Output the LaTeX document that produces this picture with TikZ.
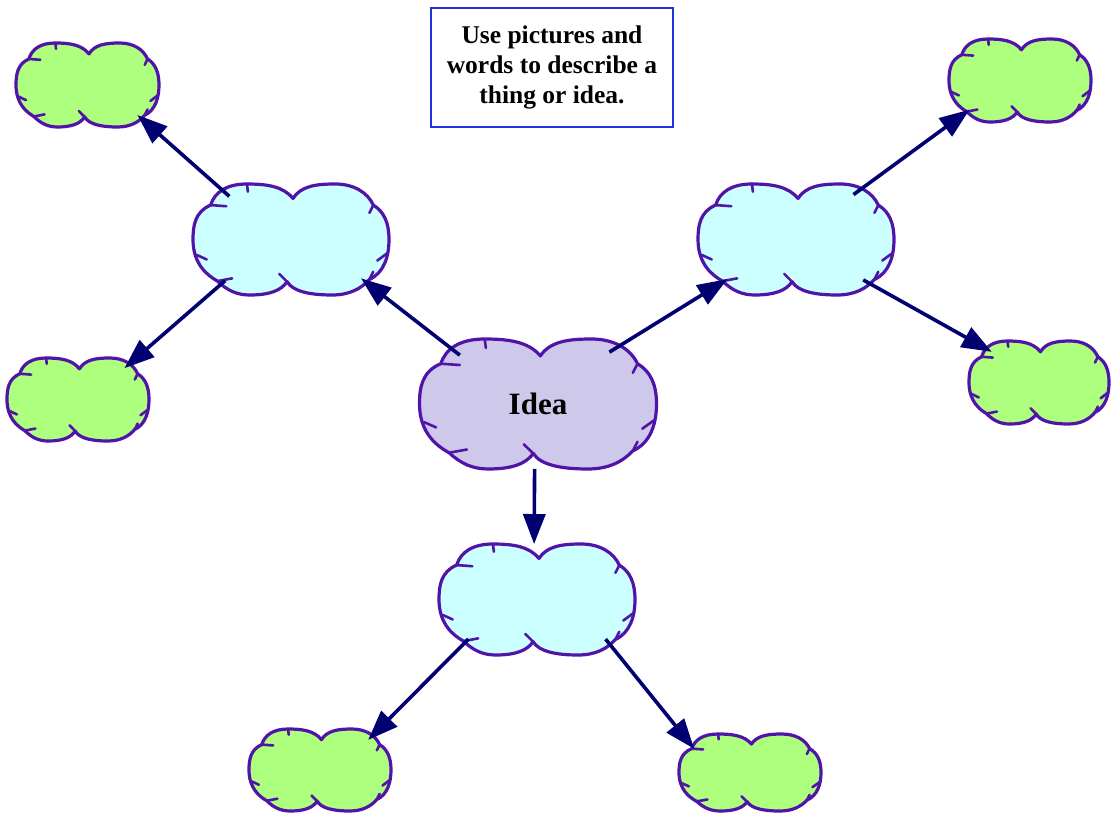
\documentclass[tikz,border=0pt]{standalone}
\usepackage{fontspec}
\setmainfont{Liberation Serif}
\usetikzlibrary{arrows.meta,shapes.geometric}
\definecolor{cpur}{HTML}{5014A8}
\definecolor{cgr}{HTML}{AEFF7E}
\definecolor{cbl}{HTML}{CCFFFF}
\definecolor{clav}{HTML}{CEC8EA}
\definecolor{cnavy}{HTML}{000070}
\definecolor{boxblue}{HTML}{2233DD}
\tikzset{
  x=1pt, y=1pt,
  cloudline/.style={draw=cpur, line width=3.2pt, line join=round},
  cloudmark/.style={draw=cpur, line width=2.6pt, line cap=round},
  anchornode/.style={ellipse, inner sep=0pt, outer sep=0pt},
  conn/.style={draw=cnavy, line width=3.6pt, -{Triangle[length=30pt,width=22pt]}},
  cloudshape/.pic={
    \path[pic actions] (0.02,0.74)
      .. controls (-0.08,0.96) and (-0.25,1.0) .. (-0.45,1.0)
      .. controls (-0.66,1.0) and (-0.78,0.85) .. (-0.82,0.62)
      .. controls (-0.98,0.50) and (-1.0,0.25) .. (-1.0,0.0)
      .. controls (-1.0,-0.45) and (-0.85,-0.65) .. (-0.75,-0.75)
      .. controls (-0.65,-0.92) and (-0.55,-1.0) .. (-0.42,-1.0)
      .. controls (-0.22,-1.0) and (-0.1,-0.92) .. (-0.04,-0.76)
      .. controls (0.02,-0.94) and (0.2,-1.0) .. (0.42,-1.0)
      .. controls (0.6,-1.0) and (0.72,-0.88) .. (0.80,-0.72)
      .. controls (0.95,-0.6) and (1.0,-0.3) .. (1.0,0.0)
      .. controls (1.0,0.3) and (0.95,0.5) .. (0.84,0.62)
      .. controls (0.78,0.85) and (0.64,1.0) .. (0.45,1.0)
      .. controls (0.25,1.0) and (0.1,0.96) .. (0.02,0.74) -- cycle;
    \draw[cloudmark] (-0.82,0.62) -- (-0.66,0.60);
    \draw[cloudmark] (-0.45,1.0) -- (-0.44,0.86);
    \draw[cloudmark] (-0.96,-0.28) -- (-0.86,-0.36);
    \draw[cloudmark] (-0.75,-0.75) -- (-0.6,-0.7);
    \draw[cloudmark] (-0.04,-0.76) -- (-0.12,-0.62);
    \draw[cloudmark] (0.80,-0.72) -- (0.84,-0.58);
    \draw[cloudmark] (0.98,-0.25) -- (0.88,-0.38);
    \draw[cloudmark] (0.84,0.62) -- (0.80,0.48);
  }
}
\newcommand\mkcloud[7]{%
  \pic[cloudline, fill=#6, xscale=#4/2, yscale=#5/2] at (#2,#3) {cloudshape};
  \node[anchornode, minimum width=#4 pt, minimum height=#5 pt] (#1) at (#2,#3) {#7};
}
\begin{document}
\begin{tikzpicture}
\useasboundingbox (0,0) rectangle (1115,-816);
% note box
\node[draw=boxblue, line width=2pt, minimum width=242pt, minimum height=118pt,
      inner sep=0pt, align=center, font=\fontsize{25.5}{30}\selectfont\bfseries]
      (note) at (552,-67.5) {Use pictures and\\words to describe a\\thing or idea.};
% clouds
\mkcloud{idea}{538}{-404}{237}{130}{clav}{\raisebox{-4pt}{\fontsize{31}{31}\selectfont\bfseries Idea}}
\mkcloud{ul}{291}{-239.5}{196}{111}{cbl}{}
\mkcloud{ur}{796}{-239.5}{196}{111}{cbl}{}
\mkcloud{bot}{537}{-599.5}{196}{111}{cbl}{}
\mkcloud{tlg}{87.5}{-85}{143}{84}{cgr}{}
\mkcloud{mlg}{78}{-399.5}{142}{83}{cgr}{}
\mkcloud{trg}{1020}{-80.5}{142}{83}{cgr}{}
\mkcloud{mrg}{1039}{-382.5}{140}{83}{cgr}{}
\mkcloud{blg}{320}{-770}{142}{82}{cgr}{}
\mkcloud{brg}{750}{-772.5}{142}{77}{cgr}{}
% connectors
\draw[conn] (idea.148) -- (ul.-29);
\draw[conn] (idea.36) -- (ur.210);
\draw[conn] (idea.-93) -- (bot.93);
\draw[conn] (ul.145) -- (tlg.-31);
\draw[conn] (ul.212) -- (mlg.34);
\draw[conn] (ur.38) -- (trg.210);
\draw[conn] (ur.-31) -- (mrg.147);
\draw[conn] (bot.210) -- (blg.32);
\draw[conn] (bot.-30) -- (brg.157);
\end{tikzpicture}
\end{document}
